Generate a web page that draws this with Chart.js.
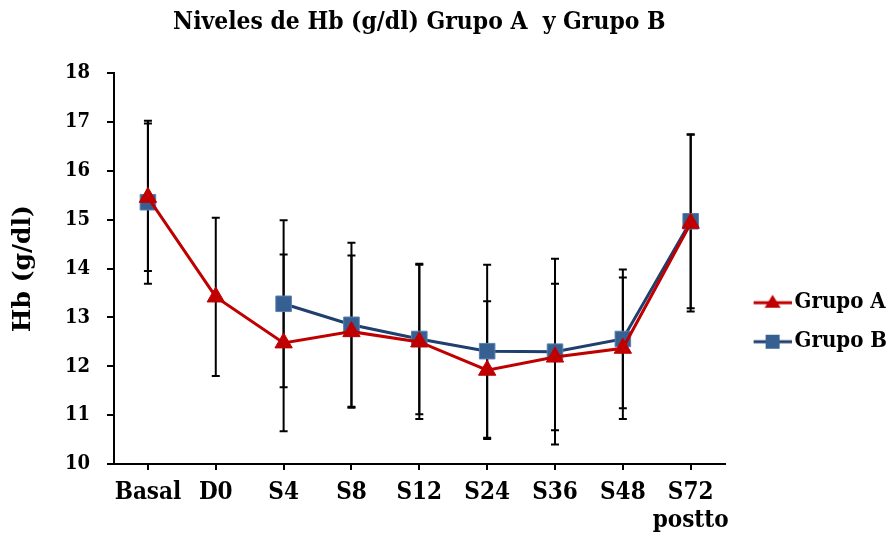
<!DOCTYPE html>
<html><head><meta charset="utf-8">
<script src="https://cdn.jsdelivr.net/npm/chart.js@4/dist/chart.umd.min.js"></script>
<style>html,body{margin:0;padding:0;background:#fff}#wrap{width:892px;height:548px}</style>
</head><body><div id="wrap"><canvas id="c" width="892" height="548"></canvas></div>
<script>
const categories = ['Basal','D0','S4','S8','S12','S24','S36','S48',['S72','postto']];
const grupoA = [15.46, 13.42, 12.48, 12.71, 12.50, 11.92, 12.19, 12.37, 14.93];
const errA   = [1.51, 1.62, 1.81, 1.56, 1.58, 1.41, 1.50, 1.45, 1.81];
const grupoB = [15.36, null, 13.28, 12.85, 12.56, 12.31, 12.30, 12.56, 14.97];
const errB   = [1.67, null, 1.71, 1.68, 1.54, 1.77, 1.90, 1.42, 1.78];
const yTicks = [10, 11, 12, 13, 14, 15, 16, 17, 18];

const FONT = '"DejaVu Serif Condensed", "DejaVu Serif", serif';
const FONT_WIDE = '"DejaVu Serif", serif';
const RED = '#C00000', NAVY = '#1F3F6E', SQ = '#376092';

function legendIcon(kind){
  const c = document.createElement('canvas'); c.width = 58; c.height = 22;
  const g = c.getContext('2d');
  g.strokeStyle = kind === 'A' ? RED : NAVY; g.lineWidth = 3;
  g.beginPath(); g.moveTo(20, 11); g.lineTo(58, 11); g.stroke();
  const cx = 39;
  if (kind === 'A') {
    g.fillStyle = RED; g.beginPath();
    g.moveTo(cx, 3); g.lineTo(cx + 8, 16); g.lineTo(cx - 8, 16); g.closePath(); g.fill();
  } else {
    g.fillStyle = SQ; g.fillRect(cx - 7, 4, 14, 14);
  }
  return c;
}

const errorBars = {
  id: 'errorBars',
  beforeDatasetsDraw(chart) {
    const ctx = chart.ctx, x = chart.scales.x, y = chart.scales.y;
    const sets = [[grupoA, errA], [grupoB, errB]];
    ctx.save();
    ctx.strokeStyle = '#000'; ctx.lineWidth = 2;
    sets.forEach(([vals, errs]) => {
      vals.forEach((v, i) => {
        if (v == null || errs[i] == null) return;
        const px = x.getPixelForValue(i);
        const top = y.getPixelForValue(v + errs[i]);
        const bot = y.getPixelForValue(v - errs[i]);
        ctx.beginPath();
        ctx.moveTo(px, top); ctx.lineTo(px, bot);
        ctx.moveTo(px - 4, top); ctx.lineTo(px + 4, top);
        ctx.moveTo(px - 4, bot); ctx.lineTo(px + 4, bot);
        ctx.stroke();
      });
    });
    ctx.restore();
  }
};

const PAD_L = 6, PAD_B = 2;
new Chart(document.getElementById('c'), {
  type: 'line',
  data: {
    labels: categories,
    datasets: [
      { label: 'Grupo A', data: grupoA, borderColor: RED, backgroundColor: RED, borderWidth: 3,
        pointStyle: 'triangle', pointRadius: 10, pointBackgroundColor: RED, pointBorderColor: RED, pointBorderWidth: 1 },
      { label: 'Grupo B', data: grupoB, borderColor: NAVY, backgroundColor: SQ, borderWidth: 3,
        pointStyle: 'rect', pointRadius: 11, pointBackgroundColor: SQ, pointBorderColor: '#5A80B0', pointBorderWidth: 1 }
    ]
  },
  options: {
    responsive: false, animation: false,
    layout: { padding: { left: PAD_L, right: -5, top: 0, bottom: PAD_B } },
    plugins: {
      title: { display: true, fullSize: false, text: 'Niveles de Hb (g/dl) Grupo A  y Grupo B', color: '#000',
        font: { family: FONT, size: 24.4, weight: 'bold' }, padding: { top: 8, bottom: 36 } },
      legend: {
        position: 'right',
        title: { display: true, text: '', padding: { top: 0, bottom: 84 } },
        labels: {
          color: '#000', font: { family: FONT, size: 22, weight: 'bold' },
          usePointStyle: true, pointStyleWidth: 42, padding: 17,
          generateLabels(chart) {
            const items = Chart.defaults.plugins.legend.labels.generateLabels(chart);
            items.forEach((it, i) => { it.pointStyle = legendIcon(i === 0 ? 'A' : 'B'); });
            return items;
          }
        }
      },
      tooltip: { enabled: false }
    },
    scales: {
      x: {
        offset: true,
        afterFit(s) { s.height = 548 - 464 - PAD_B; },
        grid: { display: true, drawOnChartArea: false, drawTicks: true, tickLength: 6, color: '#000', lineWidth: 2, offset: false },
        border: { display: true, color: '#000', width: 2 },
        ticks: { color: '#000', font: { family: FONT, size: 24, weight: 'bold' }, padding: 8, maxRotation: 0, autoSkip: false }
      },
      y: {
        min: 10, max: 18,
        afterFit(s) { s.width = 114 - PAD_L; },
        afterBuildTicks(scale) { scale.ticks = yTicks.map(v => ({ value: v })); },
        grid: { display: true, drawOnChartArea: false, drawTicks: true, tickLength: 7, color: '#000', lineWidth: 2 },
        border: { display: true, color: '#000', width: 2 },
        ticks: { color: '#000', font: { family: FONT, size: 20, weight: 'bold' }, padding: 17 },
        title: { display: true, text: 'Hb (g/dl)', color: '#000', font: { family: FONT_WIDE, size: 25, weight: 'bold' }, padding: { top: 2, bottom: 12 } }
      }
    }
  },
  plugins: [errorBars]
});
</script></body></html>
